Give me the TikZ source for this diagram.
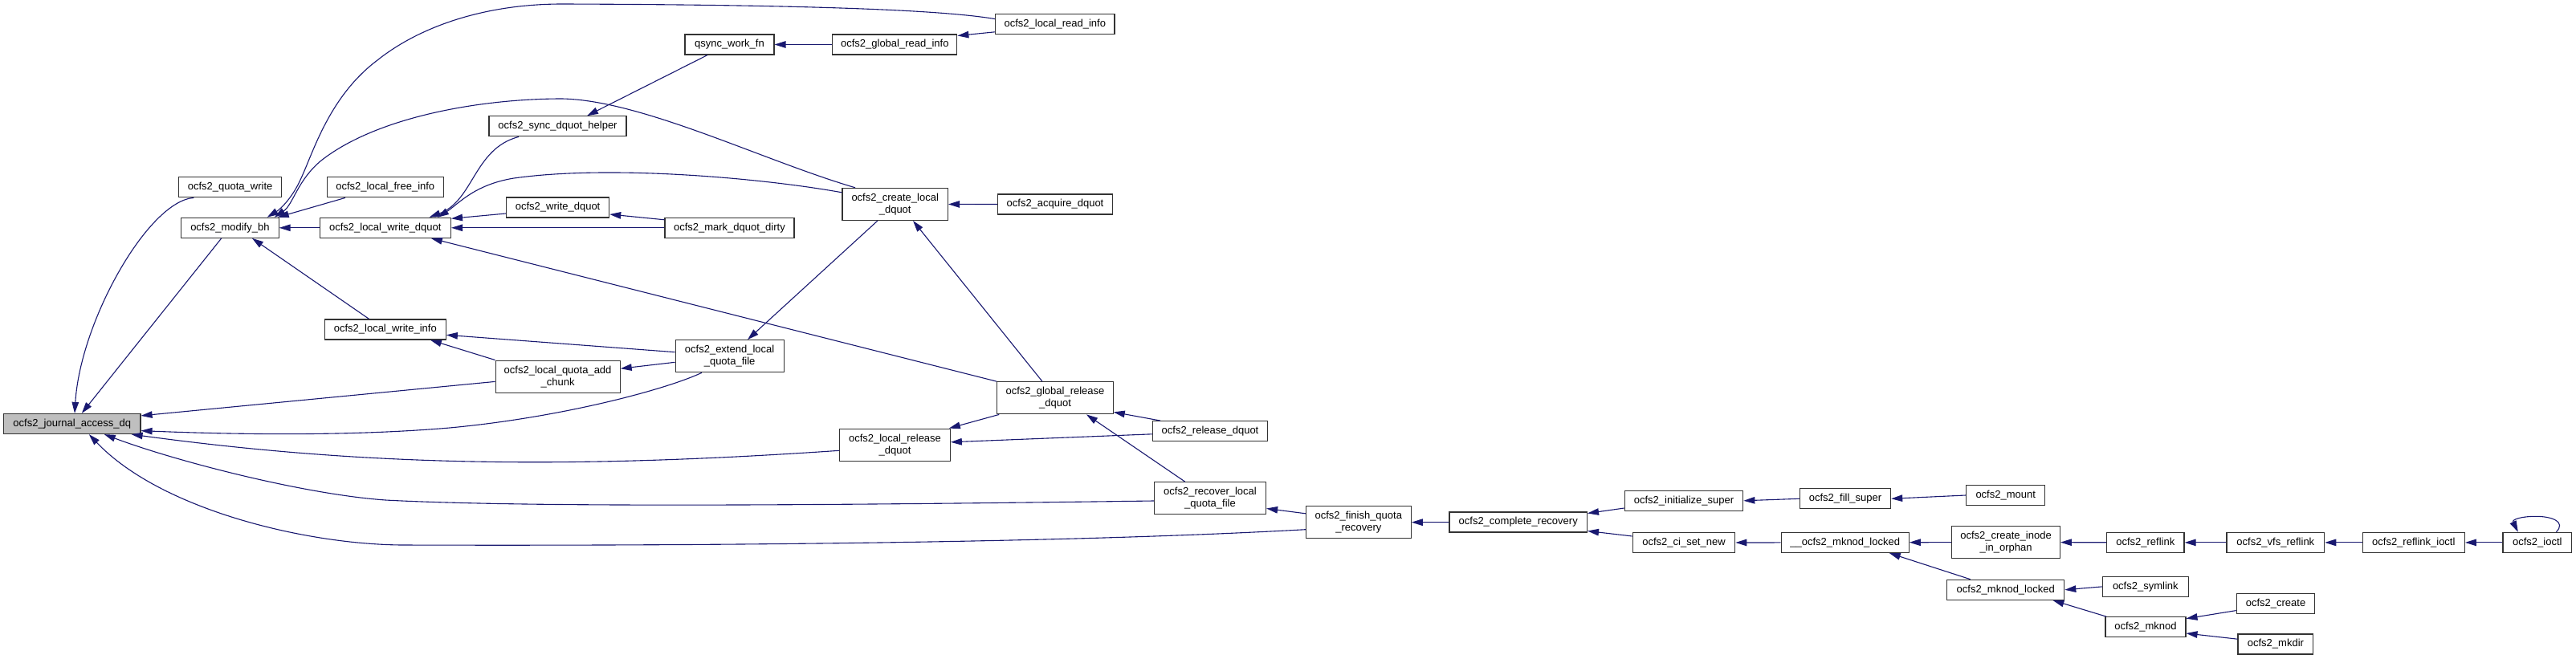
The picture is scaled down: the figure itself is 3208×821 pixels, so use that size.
\documentclass[tikz,border=0pt]{standalone}
\usepackage{fontspec}
\setmainfont{Liberation Sans}
\usetikzlibrary{arrows.meta}
\definecolor{edgeblue}{HTML}{191970}
\definecolor{boxline}{HTML}{333333}
\definecolor{jfill}{HTML}{BFBFBF}
\begin{document}
\begin{tikzpicture}[x=1pt,y=-1pt,
  fn/.style={draw=boxline, line width=1.2pt, fill=white, minimum width=#1, minimum height=25pt,
    inner sep=0pt, font=\fontsize{13}{15}\selectfont, align=center},
  fntwo/.style={fn=#1, minimum height=40pt},
  call/.style={draw=edgeblue, line width=1.1pt, -{Triangle[length=14pt,width=8.5pt]}}]
\useasboundingbox (0,0) rectangle (3208,821);
% nodes
\node[fn=170.4pt, fill=jfill] (J) at (89.8,528) {ocfs2\_journal\_access\_dq};
\node[fn=128.2pt] (QW) at (286.6,233.3) {ocfs2\_quota\_write};
\node[fn=121.4pt] (MB) at (286.4,283.8) {ocfs2\_modify\_bh};
\node[fn=145.4pt] (LFI) at (479.8,233.3) {ocfs2\_local\_free\_info};
\node[fn=163.2pt] (LWD) at (479.8,283.8) {ocfs2\_local\_write\_dquot};
\node[fn=151pt] (LWI) at (479.8,410.5) {ocfs2\_local\_write\_info};
\node[fn=111pt] (QS) at (908.4,55.5) {qsync\_work\_fn};
\node[fn=155pt] (GRI) at (1114.3,55.5) {ocfs2\_global\_read\_info};
\node[fn=171pt] (SDH) at (694.5,157.3) {ocfs2\_sync\_dquot\_helper};
\node[fn=128pt] (WD) at (694.6,258.4) {ocfs2\_write\_dquot};
\node[fn=161pt] (MDD) at (908.4,283.8) {ocfs2\_mark\_dquot\_dirty};
\node[fntwo=131.4pt] (CLD) at (1114.7,254.4) {ocfs2\_create\_local\\\_dquot};
\node[fntwo=155pt] (LQAC) at (694.6,469.1) {ocfs2\_local\_quota\_add\\\_chunk};
\node[fntwo=135pt] (ELQF) at (908.6,443.7) {ocfs2\_extend\_local\\\_quota\_file};
\node[fntwo=137.5pt] (LRD) at (1114.5,554.2) {ocfs2\_local\_release\\\_dquot};
\node[fn=148.3pt] (LRI) at (1313.8,30.1) {ocfs2\_local\_read\_info};
\node[fn=143pt] (AD) at (1314,254.5) {ocfs2\_acquire\_dquot};
\node[fntwo=144.3pt] (GRD) at (1314,495.8) {ocfs2\_global\_release\\\_dquot};
\node[fn=142.5pt] (RD) at (1507,537.2) {ocfs2\_release\_dquot};
\node[fntwo=139pt] (RLQF) at (1507,620.7) {ocfs2\_recover\_local\\\_quota\_file};
\node[fntwo=130.7pt] (FQR) at (1691.8,650.8) {ocfs2\_finish\_quota\\\_recovery};
\node[fn=171.4pt] (CR) at (1890.7,650.5) {ocfs2\_complete\_recovery};
\node[fn=147.5pt] (IS) at (2097,623.8) {ocfs2\_initialize\_super};
\node[fn=127.5pt] (CSN) at (2097,676) {ocfs2\_ci\_set\_new};
\node[fn=113.2pt] (FS) at (2298,621.3) {ocfs2\_fill\_super};
\node[fn=98.2pt] (MT) at (2497.7,617) {ocfs2\_mount};
\node[fn=159pt] (UML) at (2297.7,675.9) {\_\_ocfs2\_mknod\_locked};
\node[fntwo=134.7pt] (CIIO) at (2498,675.5) {ocfs2\_create\_inode\\\_in\_orphan};
\node[fn=96.4pt] (RF) at (2671.8,675.9) {ocfs2\_reflink};
\node[fn=146pt] (ML) at (2497.7,734.8) {ocfs2\_mknod\_locked};
\node[fn=107pt] (SL) at (2671.8,730.9) {ocfs2\_symlink};
\node[fn=100pt] (MK) at (2671.9,781.3) {ocfs2\_mknod};
\node[fn=121.7pt] (VR) at (2833.8,675.9) {ocfs2\_vfs\_reflink};
\node[fn=127pt] (RI) at (3005.8,675.9) {ocfs2\_reflink\_ioctl};
\node[fn=85.7pt] (IO) at (3159.8,675.9) {ocfs2\_ioctl};
\node[fn=97.4pt] (CT) at (2834,751.8) {ocfs2\_create};
\node[fn=93.7pt] (MD) at (2833.9,802.5) {ocfs2\_mkdir};
% edges (caller -> callee)
\draw[call] ([xshift=-45.2pt]QW.south) .. controls (185,250) and (100,400) .. ([xshift=3.2pt]J.north);
\draw[call] ([xshift=-10.7pt]MB.south) -- ([xshift=12pt]J.north);
\draw[call] (LWD) -- (MB);
\draw[call] ([xshift=-49.8pt]LFI.south) -- ([xshift=-2pt]MB.north east);
\draw[call] ([xshift=-20.2pt]LWI.north) -- ([xshift=27.6pt]MB.south);
\draw[call] ([yshift=6.5pt]LRI.west) .. controls (1170,12) and (1000,6) .. (700,5)
  .. controls (600,5) and (520,35) .. (470,75)
  .. controls (410,120) and (390,190) .. (375,222)
  .. controls (365,245) and (350,260) .. ([xshift=-15pt]MB.north east);
\draw[call] ([xshift=-49.7pt]CLD.north) .. controls (950,200) and (800,125) .. (700,123)
  .. controls (600,123) and (470,145) .. (400,200)
  .. controls (370,225) and (365,255) .. ([xshift=-6pt]MB.north east);
\draw[call] ([xshift=-48.5pt]SDH.south) .. controls (590,185) and (590,250) .. ([xshift=-27.4pt]LWD.north east);
\draw[call] ([yshift=14.6pt]CLD.west) .. controls (950,222) and (760,205) .. (640,222)
  .. controls (590,230) and (570,255) .. ([xshift=-17pt]LWD.north east);
\draw[call] ([yshift=-7.6pt]WD.west) -- ([yshift=11.5pt]LWD.east);
\draw[call] (MDD) -- (LWD);
\draw[call] ([yshift=10pt]MDD.west) -- ([yshift=-8.6pt]WD.east);
\draw[call] (GRD.north west) -- ([xshift=57pt]LWD.south);
\draw[call] (LQAC.north west) -- ([xshift=-20pt]LWI.south east);
\draw[call] ([yshift=5pt]ELQF.west) -- ([yshift=-6.8pt]LWI.east);
\draw[call] ([yshift=-7.6pt]ELQF.west) -- ([yshift=9.9pt]LQAC.east);
\draw[call] ([yshift=-6.3pt]LQAC.west) -- ([yshift=-3pt]J.north east);
\draw[call] ([xshift=-34.6pt]ELQF.south) .. controls (830,485) and (700,520) .. (560,533)
  .. controls (420,545) and (260,540) .. ([yshift=-8.6pt]J.east);
\draw[call] ([yshift=-7.1pt]LRD.west) .. controls (700,585) and (450,580) .. ([xshift=-12pt]J.south east);
\draw[call] ([yshift=-3.3pt]RLQF.west) .. controls (1000,630) and (650,632) .. (480,623)
  .. controls (380,616) and (220,575) .. ([xshift=40pt]J.south);
\draw[call] ([yshift=-8.9pt]FQR.west) .. controls (1300,678) and (800,680) .. (500,679)
  .. controls (380,678) and (200,635) .. ([xshift=21pt]J.south);
\draw[call] ([xshift=-27.4pt]QS.south) -- ([xshift=36.5pt]SDH.north);
\draw[call] (GRI) -- (QS);
\draw[call] ([yshift=-9.7pt]LRI.west) -- ([yshift=11pt]GRI.east);
\draw[call] ([xshift=-21.8pt]CLD.south) -- ([xshift=22.4pt]ELQF.north);
\draw[call] (AD) -- (CLD);
\draw[call] ([xshift=-16pt]GRD.north) -- ([xshift=22.3pt]CLD.south);
\draw[call] ([xshift=3pt]GRD.south west) -- ([xshift=-2pt]LRD.north east);
\draw[call] ([xshift=10pt]RD.north west) -- ([yshift=3pt]GRD.south east);
\draw[call] ([yshift=-3.6pt]RD.west) -- ([yshift=3.4pt]LRD.east);
\draw[call] ([xshift=-31.3pt]RLQF.north) -- ([xshift=39pt]GRD.south);
\draw[call] ([yshift=11pt]FQR.west) -- ([yshift=-12.8pt]RLQF.east);
\draw[call] (CR) -- (FQR);
\draw[call] ([yshift=-9.2pt]IS.west) -- ([yshift=11pt]CR.east);
\draw[call] ([yshift=8pt]CSN.west) -- ([yshift=-11pt]CR.east);
\draw[call] (FS.west) -- (IS.east);
\draw[call] (MT.west) -- (FS.east);
\draw[call] (UML) -- (CSN);
\draw[call] (CIIO) -- (UML);
\draw[call] ([xshift=-44pt]ML.north) -- ([xshift=55pt]UML.south);
\draw[call] (RF) -- (CIIO);
\draw[call] (SL.west) -- (ML.east);
\draw[call] ([xshift=2pt]MK.north west) -- ([xshift=58.7pt]ML.south);
\draw[call] (VR) -- (RF);
\draw[call] (RI) -- (VR);
\draw[call] (IO) -- (RI);
\draw[call] ([xshift=23.5pt]IO.north) .. controls (3196,650) and (3178,643.3) .. (3158,643.3)
  .. controls (3140,643.3) and (3128,647) .. ([xshift=-24pt]IO.north);
\draw[call] ([yshift=-8.8pt]CT.west) -- ([yshift=10.6pt]MK.east);
\draw[call] ([yshift=6.3pt]MD.west) -- ([yshift=-7.7pt]MK.east);
\end{tikzpicture}
\end{document}
